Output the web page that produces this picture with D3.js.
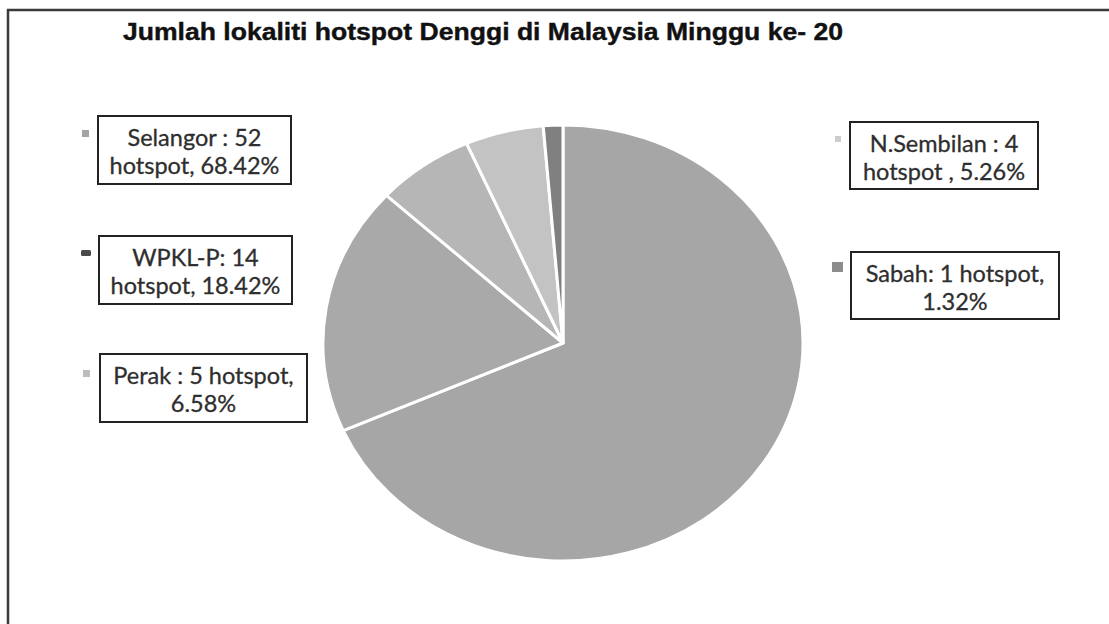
<!DOCTYPE html>
<html>
<head>
<meta charset="utf-8">
<script src="https://cdn.jsdelivr.net/npm/d3@7"></script>
<style>
  html, body { margin: 0; padding: 0; background: #fff; }
  svg { display: block; }
</style>
</head>
<body>
<svg id="chart" width="1109" height="624"></svg>
<script>
// ---- data ----
const categories = ["Selangor", "WPKL-P", "Perak", "N.Sembilan", "Sabah"];
const hotspots = [52, 14, 5, 4, 1];
const percents = ["68.42%", "18.42%", "6.58%", "5.26%", "1.32%"];
const labelLine1 = ["Selangor : 52", "WPKL-P:  14", "Perak : 5 hotspot,", "N.Sembilan : 4", "Sabah: 1 hotspot,"];
const labelLine2 = ["hotspot, 68.42%", "hotspot, 18.42%", "6.58%", "hotspot , 5.26%", "1.32%"];
const titleText = "Jumlah lokaliti hotspot Denggi di Malaysia Minggu ke- 20";

// ---- styles / layout ----
const sliceColors = ["#a6a6a6", "#a9a9a9", "#b6b6b6", "#c3c3c3", "#808080"];
const markerColors = ["#a3a3a3", "#4a4a4a", "#bdbdbd", "#cccccc", "#8c8c8c"];
const boxes = [
  {x: 98, y: 116, w: 193, h: 68, mx: 82, my: 130, mw: 7, mh: 7},
  {x: 99, y: 236, w: 193, h: 68, mx: 81, my: 250, mw: 10, mh: 6},
  {x: 100, y: 354, w: 207, h: 68, mx: 83, my: 370, mw: 7, mh: 7},
  {x: 850, y: 122, w: 188, h: 67, mx: 835, my: 136, mw: 6, mh: 6},
  {x: 851, y: 252, w: 208, h: 67, mx: 832, my: 262, mw: 11, mh: 10}
];

const svg = d3.select("#chart");

// frame
svg.append("rect")
  .attr("x", 8).attr("y", 10).attr("width", 1120).attr("height", 640)
  .attr("fill", "none").attr("stroke", "#3a3a3a").attr("stroke-width", 2.5);

// title
svg.append("text")
  .attr("x", 123).attr("y", 40)
  .attr("font-family", "Liberation Sans, Arial, sans-serif")
  .attr("font-weight", "bold")
  .attr("font-size", 23.5)
  .attr("fill", "#111")
  .attr("stroke", "#111").attr("stroke-width", 0.4)
  .attr("textLength", 720)
  .attr("lengthAdjust", "spacingAndGlyphs")
  .text(titleText);

// pie (slightly elliptical as in the reference)
const cx = 563, cy = 343, ry = 218, rx = 240;
const pie = d3.pie().sort(null).value(d => d.v);
const arcs = pie(categories.map((c, i) => ({c, v: hotspots[i], i})));
const arc = d3.arc().innerRadius(0).outerRadius(ry);
const color = d3.scaleOrdinal().domain(categories).range(sliceColors);

const g = svg.append("g")
  .attr("transform", `translate(${cx},${cy}) scale(${rx / ry},1)`);
g.selectAll("path.slice")
  .data(arcs)
  .join("path")
  .attr("class", "slice")
  .attr("d", arc)
  .attr("fill", d => color(d.data.c))
  .attr("stroke", "#fff")
  .attr("stroke-width", 3)
  .attr("stroke-linejoin", "round")
  .attr("vector-effect", "non-scaling-stroke");

// labels
const lab = svg.selectAll("g.lab")
  .data(categories.map((c, i) => ({c, i, b: boxes[i]})))
  .join("g").attr("class", "lab");

lab.append("rect")
  .attr("x", d => d.b.mx).attr("y", d => d.b.my)
  .attr("width", d => d.b.mw).attr("height", d => d.b.mh)
  .attr("rx", d => d.i === 1 ? 1.5 : 0)
  .attr("fill", d => markerColors[d.i]);

lab.append("rect")
  .attr("x", d => d.b.x).attr("y", d => d.b.y)
  .attr("width", d => d.b.w).attr("height", d => d.b.h)
  .attr("fill", "#fff").attr("stroke", "#222").attr("stroke-width", 2);

const t = lab.append("text")
  .attr("text-anchor", "middle")
  .attr("font-family", "Lato, 'Open Sans', sans-serif")
  .attr("font-size", 23.5)
  .attr("fill", "#2e2e2e")
  .attr("stroke", "#2e2e2e").attr("stroke-width", 0.3);
t.append("tspan")
  .attr("x", d => d.b.x + d.b.w / 2)
  .attr("y", d => d.b.y + 30)
  .text(d => labelLine1[d.i]);
t.append("tspan")
  .attr("x", d => d.b.x + d.b.w / 2)
  .attr("y", d => d.b.y + 58)
  .text(d => labelLine2[d.i]);
</script>
</body>
</html>
